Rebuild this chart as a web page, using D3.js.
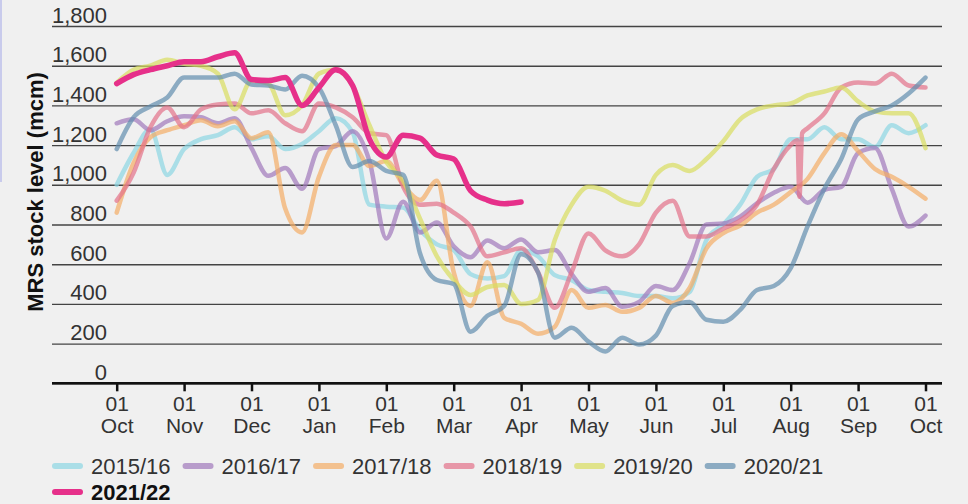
<!DOCTYPE html>
<html>
<head>
<meta charset="utf-8">
<script src="https://cdn.jsdelivr.net/npm/d3@7"></script>
<style>
  html, body { margin: 0; padding: 0; background: #f0f0f0; }
  svg { display: block; font-family: "Liberation Sans", Arial, Helvetica, sans-serif; }
</style>
</head>
<body>
<svg id="chart" width="968" height="504"></svg>
<script>
// ---------------- DATA ----------------
const monthLabels = ["Oct","Nov","Dec","Jan","Feb","Mar","Apr","May","Jun","Jul","Aug","Sep","Oct"];
const monthTicks = [0,1,2,3,4,5,6,7,8,9,10,11,12];
const yTicks = [0,200,400,600,800,1000,1200,1400,1600,1800];

// sample points, in months after 1 October (roughly weekly)
const weekOffsets = [0,0.25,0.5,0.75,1,1.25,1.5,1.75,2,2.25,2.5,2.75,3,3.25,3.5,3.75,4,4.25,4.5,4.75,5,5.25,5.5,5.75,6,6.25,6.5,6.75,7,7.25,7.5,7.75,8,8.25,8.5,8.75,9,9.25,9.5,9.75,10,10.25,10.5,10.75,11,11.25,11.5,11.75,12];
const offsets1819 = [0,0.25,0.5,0.75,1,1.25,1.5,1.75,2,2.25,2.5,2.75,3,3.25,3.5,3.75,4,4.25,4.5,4.75,5,5.25,5.5,5.75,6,6.25,6.5,6.75,7,7.25,7.5,7.75,8,8.25,8.5,8.75,9,9.25,9.5,9.75,10,10.1,10.13,10.17,10.25,10.5,10.75,11,11.25,11.5,11.75,12];

const seasons = ["2015/16","2016/17","2017/18","2018/19","2019/20","2020/21","2021/22"];

const v1516 = [1000,1160,1280,1050,1180,1230,1250,1290,1230,1245,1180,1205,1270,1335,1265,900,890,885,772,700,671,550,528,540,670,640,545,520,470,461,455,440,440,428,460,722,800,900,1040,1080,1230,1230,1290,1230,1230,1190,1300,1260,1300];
const v1617 = [1310,1330,1275,1320,1345,1340,1310,1335,1185,1045,1085,980,1180,1195,1270,1120,730,915,760,810,690,635,720,680,725,660,671,550,461,480,386,410,490,470,605,800,805,840,907,960,990,910,974,990,1160,1185,980,790,845];
const v1718 = [860,1110,1240,1275,1300,1325,1295,1320,1235,1265,880,760,1040,1200,1200,1095,1120,1000,923,1020,560,390,610,330,300,250,285,470,380,395,360,380,440,405,480,680,757,795,860,900,963,1030,1160,1255,1170,1080,1040,990,930];
const v1819 = [920,1060,1290,1390,1290,1380,1405,1410,1360,1375,1310,1270,1410,1390,1340,1260,1250,990,900,905,860,790,640,660,680,560,380,560,755,670,640,700,860,920,740,740,780,820,900,1080,1200,1225,940,1260,1285,1360,1490,1515,1510,1560,1500,1490];
const v1920 = [1515,1580,1600,1630,1610,1600,1560,1380,1525,1510,1350,1400,1560,1580,1500,1300,1115,1020,830,640,520,445,485,495,400,420,722,900,990,970,920,900,1050,1100,1070,1130,1220,1330,1380,1400,1410,1450,1470,1490,1420,1370,1360,1360,1185];
const v2021 = [1180,1340,1395,1440,1540,1540,1540,1560,1505,1500,1480,1550,1490,1300,1090,1120,1070,1050,655,520,500,260,340,390,650,560,230,280,210,160,230,195,240,390,410,320,310,370,470,490,580,790,980,1130,1330,1370,1400,1460,1540];
const v2122 = [1510,1555,1580,1600,1620,1620,1645,1665,1530,1525,1540,1400,1490,1580,1500,1230,1140,1250,1235,1150,1130,970,923,905,913];

const seasonColors = ["#8bd5e2","#a078bb","#f3ad65","#e37189","#d8dd5e","#618dae","#e6308a"];

// ---------------- CHART ----------------
const svg = d3.select("#chart");
const gridLeft = 52, gridRight = 942;
const x = d3.scaleLinear().domain([0, 12]).range([116.7, 925.5]);
const y = d3.scaleLinear().domain([0, 1800]).range([383.3, 26]);

// faint border mark at left edge
svg.append("rect").attr("x", 0).attr("y", 0).attr("width", 2).attr("height", 182).attr("fill", "#c9cbec");

// gridlines + y labels
const gy = svg.append("g")
  .attr("transform", `translate(${gridLeft},0)`)
  .call(d3.axisLeft(y).tickValues(yTicks).tickSize(-(gridRight - gridLeft)).tickFormat(d3.format(",")));
gy.attr("font-family", null).attr("font-size", null);
gy.select(".domain").remove();
gy.selectAll(".tick line").attr("stroke", "#444").attr("stroke-width", 1.4);
gy.selectAll(".tick text")
  .attr("x", 55).attr("dy", -4).attr("text-anchor", "end")
  .attr("fill", "#333").attr("font-size", 22);

// x axis
const gx = svg.append("g")
  .attr("transform", `translate(0,${y(0)})`)
  .call(d3.axisBottom(x).tickValues(monthTicks).tickSize(8).tickFormat(""));
gx.attr("font-family", null).attr("font-size", null);
gx.select(".domain").remove();
gx.selectAll(".tick line").attr("stroke", "#111").attr("stroke-width", 2.5);
gx.selectAll(".tick text").remove();
gx.selectAll(".tick").each(function(d, i) {
  const t = d3.select(this).append("text")
    .attr("text-anchor", "middle").attr("fill", "#333").attr("font-size", 21);
  t.append("tspan").attr("x", 0).attr("y", 28).text("01");
  t.append("tspan").attr("x", 0).attr("y", 50).text(monthLabels[i]);
});

// baseline
svg.append("line")
  .attr("x1", gridLeft).attr("x2", gridRight)
  .attr("y1", y(0)).attr("y2", y(0))
  .attr("stroke", "#111").attr("stroke-width", 2.6);

// series
const seriesValues = [v1516, v1617, v1718, v1819, v1920, v2021, v2122];
const seriesOffsets = [weekOffsets, weekOffsets, weekOffsets, offsets1819, weekOffsets, weekOffsets, weekOffsets];
const line = d3.line().x(d => x(d[0])).y(d => y(d[1])).curve(d3.curveMonotoneX);

const series = seasons.map((s, i) => ({
  name: s,
  color: seasonColors[i],
  points: seriesValues[i].map((v, j) => [seriesOffsets[i][j], v]),
  current: i === seasons.length - 1
}));

svg.append("g").selectAll("path")
  .data(series)
  .join("path")
  .attr("d", d => line(d.points))
  .attr("fill", "none")
  .attr("stroke", d => d.color)
  .attr("stroke-width", d => d.current ? 5.5 : 4.5)
  .attr("stroke-opacity", d => d.current ? 1 : 0.7)
  .attr("stroke-linejoin", "round")
  .attr("stroke-linecap", "round");

// legend
const legend = svg.append("g");
let lx = 55;
series.forEach((s, i) => {
  let rowY, sx;
  if (s.current) { rowY = 492; sx = 55; } else { rowY = 466; sx = lx; }
  legend.append("line")
    .attr("x1", sx).attr("x2", sx + 25)
    .attr("y1", rowY).attr("y2", rowY)
    .attr("stroke", s.color)
    .attr("stroke-opacity", s.current ? 1 : 0.7)
    .attr("stroke-width", 6)
    .attr("stroke-linecap", "round");
  const t = legend.append("text")
    .attr("x", sx + 36).attr("y", rowY + 8)
    .attr("fill", s.current ? "#111" : "#333")
    .attr("font-size", 22)
    .attr("font-weight", s.current ? "bold" : "normal")
    .text(s.name);
  if (!s.current) lx = sx + 36 + t.node().getComputedTextLength() + 15;
});

// y-axis title
svg.append("text")
  .attr("transform", "translate(43,192) rotate(-90)")
  .attr("text-anchor", "middle")
  .attr("font-size", 22)
  .attr("font-weight", "bold")
  .attr("fill", "#111")
  .text("MRS stock level (mcm)");
</script>
</body>
</html>
